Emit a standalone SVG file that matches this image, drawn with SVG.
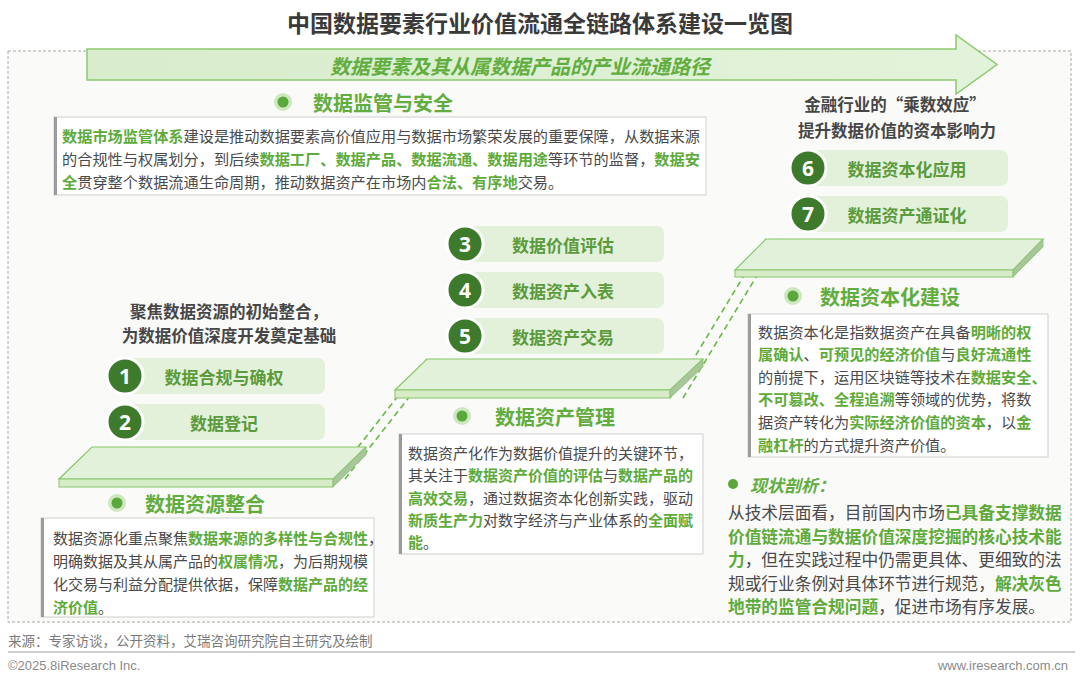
<svg xmlns="http://www.w3.org/2000/svg" width="1080" height="680" viewBox="0 0 1080 680">
<defs>
<style>
text { font-family: "Noto Sans CJK SC", "Noto Sans", sans-serif; dominant-baseline: central; }
.title { font-size: 23px; font-weight: bold; fill: #3a3a3a; }
.arrowtxt { font-size: 20px; font-weight: bold; font-style: italic; fill: #62ad3f; }
.body { font-size: 15px; fill: #4a4a4a; }
.hl { fill: #5eab3a; font-weight: bold; }
.head { font-size: 20px; font-weight: bold; fill: #62ad3f; }
.sub { font-size: 16.5px; font-weight: bold; fill: #464646; }
.pilltxt { font-size: 17px; font-weight: bold; fill: #5b9b3b; text-anchor: middle; }
.num { font-family: "Open Sans", "Liberation Sans", sans-serif; font-size: 21px; font-weight: bold; fill: #ffffff; text-anchor: middle; }
.box { fill: #ffffff; stroke: #cfcfcf; stroke-width: 1; }
.bar { fill: #9b9b9b; }
.pill { fill: #e3f1db; }
.circ { fill: #3e7a2c; stroke: #ffffff; stroke-width: 3; }
.doto { fill: #cde7bf; }
.doti { fill: #5aa83c; }
.top { fill: #e2f2da; stroke: #88c56c; stroke-width: 1.2; }
.front { fill: #d5ecc7; stroke: #88c56c; stroke-width: 1; }
.side { fill: #a9c59b; stroke: #88c56c; stroke-width: 0.8; }
.dash { stroke: #6ab848; stroke-width: 1.6; stroke-dasharray: 6 4; fill: none; }
.foot { font-size: 13.5px; fill: #7a7a7a; }
.foot2 { font-family: "Liberation Sans", sans-serif; font-size: 13px; fill: #8a8a8a; }
</style>
<linearGradient id="ag" x1="0" y1="0" x2="1" y2="0">
<stop offset="0" stop-color="#d7edcb"/>
<stop offset="1" stop-color="#e3f3db"/>
</linearGradient>
</defs>
<rect x="0" y="0" width="1080" height="680" fill="#ffffff"/>
<rect x="8" y="51" width="1063" height="571" fill="#fafaf8" stroke="#a8a8a8" stroke-width="1" stroke-dasharray="3 2"/>

<text class="title" x="540" y="22" text-anchor="middle">中国数据要素行业价值流通全链路体系建设一览图</text>

<g id="flow-arrow">
<polygon points="87,49 956,49 956,35 997,64.5 956,94 956,80 87,80" fill="url(#ag)" stroke="#8dc96f" stroke-width="1.5"/>
<text class="arrowtxt" x="520" y="65" text-anchor="middle">数据要素及其从属数据产品的产业流通路径</text>
</g>

<g id="connectors">
<line class="dash" x1="333" y1="479" x2="427" y2="359"/>
<line class="dash" x1="345" y1="479" x2="439" y2="359"/>
<line class="dash" x1="670" y1="398" x2="766" y2="239"/>
<line class="dash" x1="683" y1="398" x2="779" y2="239"/>
</g>

<g id="platform-left">
<polygon class="top" points="92,447 366,447 333,479 59,479"/>
<rect class="front" x="59" y="479" width="274" height="8"/>
<polygon class="side" points="366,447 366,455 333,487 333,479"/>
</g>
<g id="platform-mid">
<polygon class="top" points="427,359 703,359 670,390 395,390"/>
<rect class="front" x="395" y="390" width="275" height="8"/>
<polygon class="side" points="703,359 703,367 670,398 670,390"/>
</g>
<g id="platform-right">
<polygon class="top" points="766,239 1043,239 1013,270 735,270"/>
<rect class="front" x="735" y="270" width="278" height="7"/>
<polygon class="side" points="1043,239 1043,247 1013,277 1013,270"/>
</g>

<g id="supervision">
<circle class="doto" cx="283" cy="102" r="9"/>
<circle class="doti" cx="283" cy="102" r="5.5"/>
<text class="head" x="313" y="102">数据监管与安全</text>
<rect class="box" x="54" y="117" width="652" height="78"/>
<rect class="bar" x="54" y="117" width="3" height="78"/>
<text class="body" x="62" y="135" style="font-size:15.2px"><tspan class="hl">数据市场监管体系</tspan>建设是推动数据要素高价值应用与数据市场繁荣发展的重要保障，从数据来源</text>
<text class="body" x="62" y="158" style="font-size:15.2px">的合规性与权属划分，到后续<tspan class="hl">数据工厂、数据产品、数据流通、数据用途</tspan>等环节的监督，<tspan class="hl">数据安</tspan></text>
<text class="body" x="62" y="181" style="font-size:15.2px"><tspan class="hl">全</tspan>贯穿整个数据流通生命周期，推动数据资产在市场内<tspan class="hl">合法、有序地</tspan>交易。</text>
</g>

<g id="resource-integration">
<text class="sub" x="229" y="311" text-anchor="middle">聚焦数据资源的初始整合，</text>
<text class="sub" x="229" y="335" text-anchor="middle">为数据价值深度开发奠定基础</text>
<circle class="doto" cx="117" cy="503" r="9"/>
<circle class="doti" cx="117" cy="503" r="5.5"/>
<text class="head" x="145" y="503">数据资源整合</text>
<rect class="box" x="41" y="518" width="333" height="99"/>
<rect class="bar" x="41" y="518" width="3" height="99"/>
<text class="body" x="53" y="537">数据资源化重点聚焦<tspan class="hl">数据来源的多样性与合规性</tspan>，</text>
<text class="body" x="53" y="560">明确数据及其从属产品的<tspan class="hl">权属情况</tspan>，为后期规模</text>
<text class="body" x="53" y="583">化交易与利益分配提供依据，保障<tspan class="hl">数据产品的经</tspan></text>
<text class="body" x="53" y="606"><tspan class="hl">济价值</tspan>。</text>
</g>

<g id="step-1">
<rect class="pill" x="125" y="358" width="200" height="36" rx="7"/>
<circle class="circ" cx="125" cy="376" r="18"/>
<text class="num" x="125" y="376">1</text>
<text class="pilltxt" x="224" y="376">数据合规与确权</text>
</g>
<g id="step-2">
<rect class="pill" x="125" y="404" width="200" height="36" rx="7"/>
<circle class="circ" cx="125" cy="422" r="18"/>
<text class="num" x="125" y="422">2</text>
<text class="pilltxt" x="224" y="422">数据登记</text>
</g>

<g id="asset-management">
<circle class="doto" cx="462" cy="416" r="9"/>
<circle class="doti" cx="462" cy="416" r="5.5"/>
<text class="head" x="495" y="416">数据资产管理</text>
<rect class="box" x="399" y="434" width="304" height="120"/>
<rect class="bar" x="399" y="434" width="3" height="120"/>
<text class="body" x="408" y="452">数据资产化作为数据价值提升的关键环节，</text>
<text class="body" x="408" y="474">其关注于<tspan class="hl">数据资产价值的评估</tspan>与<tspan class="hl">数据产品的</tspan></text>
<text class="body" x="408" y="497"><tspan class="hl">高效交易</tspan>，通过数据资本化创新实践，驱动</text>
<text class="body" x="408" y="519"><tspan class="hl">新质生产力</tspan>对数字经济与产业体系的<tspan class="hl">全面赋</tspan></text>
<text class="body" x="408" y="541"><tspan class="hl">能</tspan>。</text>
</g>

<g id="step-3">
<rect class="pill" x="465" y="226" width="199" height="36" rx="7"/>
<circle class="circ" cx="465" cy="244" r="18"/>
<text class="num" x="465" y="244">3</text>
<text class="pilltxt" x="563" y="244">数据价值评估</text>
</g>
<g id="step-4">
<rect class="pill" x="465" y="272" width="199" height="36" rx="7"/>
<circle class="circ" cx="465" cy="290" r="18"/>
<text class="num" x="465" y="290">4</text>
<text class="pilltxt" x="563" y="290">数据资产入表</text>
</g>
<g id="step-5">
<rect class="pill" x="465" y="318" width="199" height="36" rx="7"/>
<circle class="circ" cx="465" cy="336" r="18"/>
<text class="num" x="465" y="336">5</text>
<text class="pilltxt" x="563" y="336">数据资产交易</text>
</g>

<g id="capitalization">
<text class="sub" x="895" y="104" text-anchor="middle">金融行业的“乘数效应”</text>
<text class="sub" x="897" y="130" text-anchor="middle">提升数据价值的资本影响力</text>
<circle class="doto" cx="793" cy="296" r="9"/>
<circle class="doti" cx="793" cy="296" r="5.5"/>
<text class="head" x="820" y="296">数据资本化建设</text>
<rect class="box" x="748" y="314" width="300" height="143"/>
<rect class="bar" x="748" y="314" width="3" height="143"/>
<text class="body" x="758" y="331" style="font-size:15.2px">数据资本化是指数据资产在具备<tspan class="hl">明晰的权</tspan></text>
<text class="body" x="758" y="353" style="font-size:15.2px"><tspan class="hl">属确认</tspan>、<tspan class="hl">可预见的经济价值</tspan>与<tspan class="hl">良好流通性</tspan></text>
<text class="body" x="758" y="376" style="font-size:15.2px">的前提下，运用区块链等技术在<tspan class="hl">数据安全、</tspan></text>
<text class="body" x="758" y="398" style="font-size:15.2px"><tspan class="hl">不可篡改、全程追溯</tspan>等领域的优势，将数</text>
<text class="body" x="758" y="421" style="font-size:15.2px">据资产转化为<tspan class="hl">实际经济价值的资本</tspan>，以<tspan class="hl">金</tspan></text>
<text class="body" x="758" y="444" style="font-size:15.2px"><tspan class="hl">融杠杆</tspan>的方式提升资产价值。</text>
</g>

<g id="step-6">
<rect class="pill" x="808" y="150" width="200" height="36" rx="7"/>
<circle class="circ" cx="808" cy="168" r="18"/>
<text class="num" x="808" y="168">6</text>
<text class="pilltxt" x="907" y="168">数据资本化应用</text>
</g>
<g id="step-7">
<rect class="pill" x="808" y="196" width="200" height="36" rx="7"/>
<circle class="circ" cx="808" cy="214" r="18"/>
<text class="num" x="808" y="214">7</text>
<text class="pilltxt" x="907" y="214">数据资产通证化</text>
</g>

<g id="status">
<circle cx="733" cy="484" r="5" fill="#5aa83c"/>
<text x="750" y="484" style="font-size:17px;font-weight:bold;font-style:italic;fill:#62ad3f">现状剖析：</text>
<text class="body" x="728" y="512" style="font-size:16.7px">从技术层面看，目前国内市场<tspan class="hl">已具备支撑数据</tspan></text>
<text class="body" x="728" y="536" style="font-size:16.7px"><tspan class="hl">价值链流通与数据价值深度挖掘的核心技术能</tspan></text>
<text class="body" x="728" y="559" style="font-size:16.7px"><tspan class="hl">力</tspan>，但在实践过程中仍需更具体、更细致的法</text>
<text class="body" x="728" y="583" style="font-size:16.7px">规或行业条例对具体环节进行规范，<tspan class="hl">解决灰色</tspan></text>
<text class="body" x="728" y="606" style="font-size:16.7px"><tspan class="hl">地带的监管合规问题</tspan>，促进市场有序发展。</text>
</g>

<g id="footer">
<text class="foot" x="8" y="640">来源：专家访谈，公开资料，艾瑞咨询研究院自主研究及绘制</text>
<line x1="8" y1="652" x2="1075" y2="652" stroke="#a0a0a0" stroke-width="1.2"/>
<text class="foot2" x="8" y="665">©2025.8iResearch Inc.</text>
<text class="foot2" x="1068" y="665" text-anchor="end">www.iresearch.com.cn</text>
</g>
</svg>
